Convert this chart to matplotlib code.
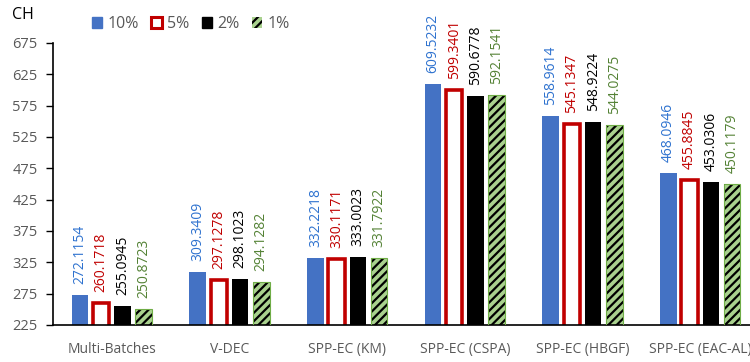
import numpy as np
import matplotlib.pyplot as plt
from matplotlib.patches import Patch

# ----------------------------------------------------------------------------
# data
# ----------------------------------------------------------------------------
methods = ['Multi-Batches', 'V-DEC', 'SPP-EC (KM)', 'SPP-EC (CSPA)',
           'SPP-EC (HBGF)', 'SPP-EC (EAC-AL)']
rates = ['10%', '5%', '2%', '1%']

ch_10 = [272.1154, 309.3409, 332.2218, 609.5232, 558.9614, 468.0946]
ch_5 = [260.1718, 297.1278, 330.1171, 599.3401, 545.1347, 455.8845]
ch_2 = [255.0945, 298.1023, 333.0023, 590.6778, 548.9224, 453.0306]
ch_1 = [250.8723, 294.1282, 331.7922, 592.1541, 544.0275, 450.1179]

y_ticks = [225, 275, 325, 375, 425, 475, 525, 575, 625, 675]

# ----------------------------------------------------------------------------
# style
# ----------------------------------------------------------------------------
plt.rcParams['font.family'] = ['Open Sans', 'DejaVu Sans']
plt.rcParams['hatch.linewidth'] = 1.6

BLUE = '#4472c4'
RED = '#c00000'
GREEN_FILL = '#a9d18e'
GREEN_EDGE = '#70ad47'
GREY = '#595959'
LABEL_COLORS = ['#2e72cf', '#c00000', 'black', '#548235']

fig = plt.figure(figsize=(7.5, 3.62), dpi=100)
ax = fig.add_axes([53 / 750, 1 - 325 / 362, 706 / 750, 282 / 362])

x = np.arange(len(methods))
step = 0.18
width = 0.14
offsets = (np.arange(4) - 1.5) * step

# 10% - solid blue
ax.bar(x + offsets[0], ch_10, width, color=BLUE, zorder=2)
# 5% - white with a thick red outline
ax.bar(x + offsets[1], ch_5, width, facecolor='white', edgecolor=RED,
       linewidth=2.6, zorder=2)
# 2% - solid black
ax.bar(x + offsets[2], ch_2, width, color='black', zorder=2)
# 1% - green with black diagonal hatching, green outline on top
ax.bar(x + offsets[3], ch_1, width, facecolor=GREEN_FILL, edgecolor='black',
       hatch='////', linewidth=0, zorder=2)
ax.bar(x + offsets[3], ch_1, width, fill=False, edgecolor=GREEN_EDGE,
       linewidth=0.8, zorder=3)

# rotated value labels above every bar
for series, off, col in zip([ch_10, ch_5, ch_2, ch_1], offsets, LABEL_COLORS):
    for xi, v in zip(x, series):
        ax.annotate(f'{v:.4f}', (xi + off, v), xytext=(0, 8),
                    textcoords='offset points', rotation=90,
                    ha='center', va='bottom', fontsize=10, color=col)

ax.set_ylim(225, 675)
ax.set_xlim(-0.5, 5.5)
ax.set_yticks(y_ticks)
ax.set_xticks(x)
ax.set_xticklabels(methods)
ax.tick_params(axis='y', direction='out', length=5, width=1, colors='black',
               labelcolor=GREY, labelsize=10.5, pad=6)
ax.tick_params(axis='x', length=0, labelcolor=GREY, labelsize=10, pad=12)

for side in ['top', 'right']:
    ax.spines[side].set_visible(False)
ax.spines['left'].set_linewidth(1.2)
ax.spines['bottom'].set_linewidth(1.2)

# axis title in the top-left corner
fig.text(12 / 750, 1 - 15 / 362, 'CH', fontsize=11.5, va='center', ha='left')

# legend
handles = [
    Patch(facecolor=BLUE, edgecolor=BLUE),
    Patch(facecolor='white', edgecolor=RED, linewidth=2.2),
    Patch(facecolor='black', edgecolor='black'),
    Patch(facecolor=GREEN_FILL, edgecolor='black', hatch='////', linewidth=0),
]
fig.legend(handles, rates, loc='center left',
           bbox_to_anchor=(92 / 750, 1 - 24 / 362), ncol=4, frameon=False,
           borderpad=0, borderaxespad=0, handlelength=0.65,
           handleheight=0.65, handletextpad=0.35, columnspacing=0.75,
           fontsize=11.5, labelcolor=GREY)

fig.savefig('out.png', dpi=100)
